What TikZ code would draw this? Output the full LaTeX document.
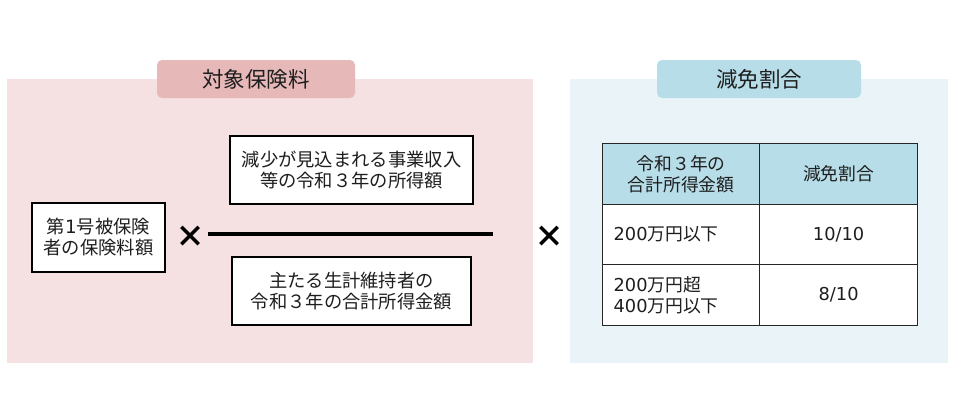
\documentclass[tikz,border=0pt]{standalone}
\usepackage{fontspec}
\setmainfont{Noto Sans CJK JP}
\newfontfamily\dv{DejaVu Sans}
\newcommand{\lt}[1]{{\dv #1}}
\definecolor{pinkbg}{RGB}{245,225,225}
\definecolor{pinktab}{RGB}{230,184,184}
\definecolor{bluebg}{RGB}{234,244,248}
\definecolor{bluetab}{RGB}{183,221,232}
\definecolor{txt}{RGB}{30,30,30}
\begin{document}
\begin{tikzpicture}[x=1pt,y=-1pt,
  panel/.style={anchor=north west,inner sep=0pt,draw=none},
  tab/.style={rounded corners=5pt,inner sep=0pt,minimum height=38pt,font=\fontsize{21.5}{24}\selectfont,text=txt},
  termbox/.style={draw=black,line width=2pt,fill=white,inner sep=0pt,align=center,font=\fontsize{18.3}{21}\selectfont,text=txt},
  times/.style={inner sep=0pt,font=\fontsize{30}{30}\selectfont\bfseries},
  cellc/.style={draw=black!85,line width=1.2pt,inner sep=0pt,minimum height=61pt,align=center,font=\fontsize{17.8}{21}\selectfont,text=txt},
  celll/.style={draw=black!85,line width=1.2pt,inner xsep=11pt,inner ysep=0pt,text width=135pt,minimum height=60pt,align=left,font=\fontsize{17.8}{21}\selectfont,text=txt}
]
\useasboundingbox (0,0) rectangle (960,407);
\fill[white] (0,0) rectangle (960,407);
% panels
\node[panel,fill=pinkbg,minimum width=526pt,minimum height=284pt] (lp) at (7,79) {};
\node[panel,fill=bluebg,minimum width=378pt,minimum height=284pt] (rp) at (570,79) {};
\node[tab,fill=pinktab,minimum width=198pt] (lt) at (256,79) {対象保険料};
\node[tab,fill=bluetab,minimum width=204pt] (rt) at (759,79) {減免割合};
% left formula
\node[termbox,minimum width=133pt,minimum height=69pt] (ins) at (98.5,237.5) {第\lt{1}号被保険\\者の保険料額};
\node[times] (x1) at (190,237) {×};
\draw[line width=4pt] (208,234) coordinate (fl) -- (493,234) coordinate (fr);
\node[termbox,minimum width=243pt,minimum height=68pt] (num) at (351.5,170) {減少が見込まれる事業収入\\等の令和３年の所得額};
\node[termbox,minimum width=239pt,minimum height=68pt] (den) at (351.5,291) {主たる生計維持者の\\令和３年の合計所得金額};
\node[times] (x2) at (549,237) {×};
% table
\node[cellc,fill=bluetab,minimum width=157pt,anchor=north west] (h1) at (602,143) {令和３年の\\合計所得金額};
\node[cellc,fill=bluetab,minimum width=158pt,anchor=north west] (h2) at (759,143) {減免割合};
\node[celll,fill=white,anchor=north west] (r1a) at (602,204) {\lt{200}万円以下};
\node[cellc,fill=white,minimum width=158pt,minimum height=60pt,anchor=north west] (r1b) at (759,204) {\lt{10/10}};
\node[celll,fill=white,minimum height=61pt,anchor=north west] (r2a) at (602,264) {\lt{200}万円超\\\lt{400}万円以下};
\node[cellc,fill=white,minimum width=158pt,anchor=north west] (r2b) at (759,264) {\lt{8/10}};
\end{tikzpicture}
\end{document}
